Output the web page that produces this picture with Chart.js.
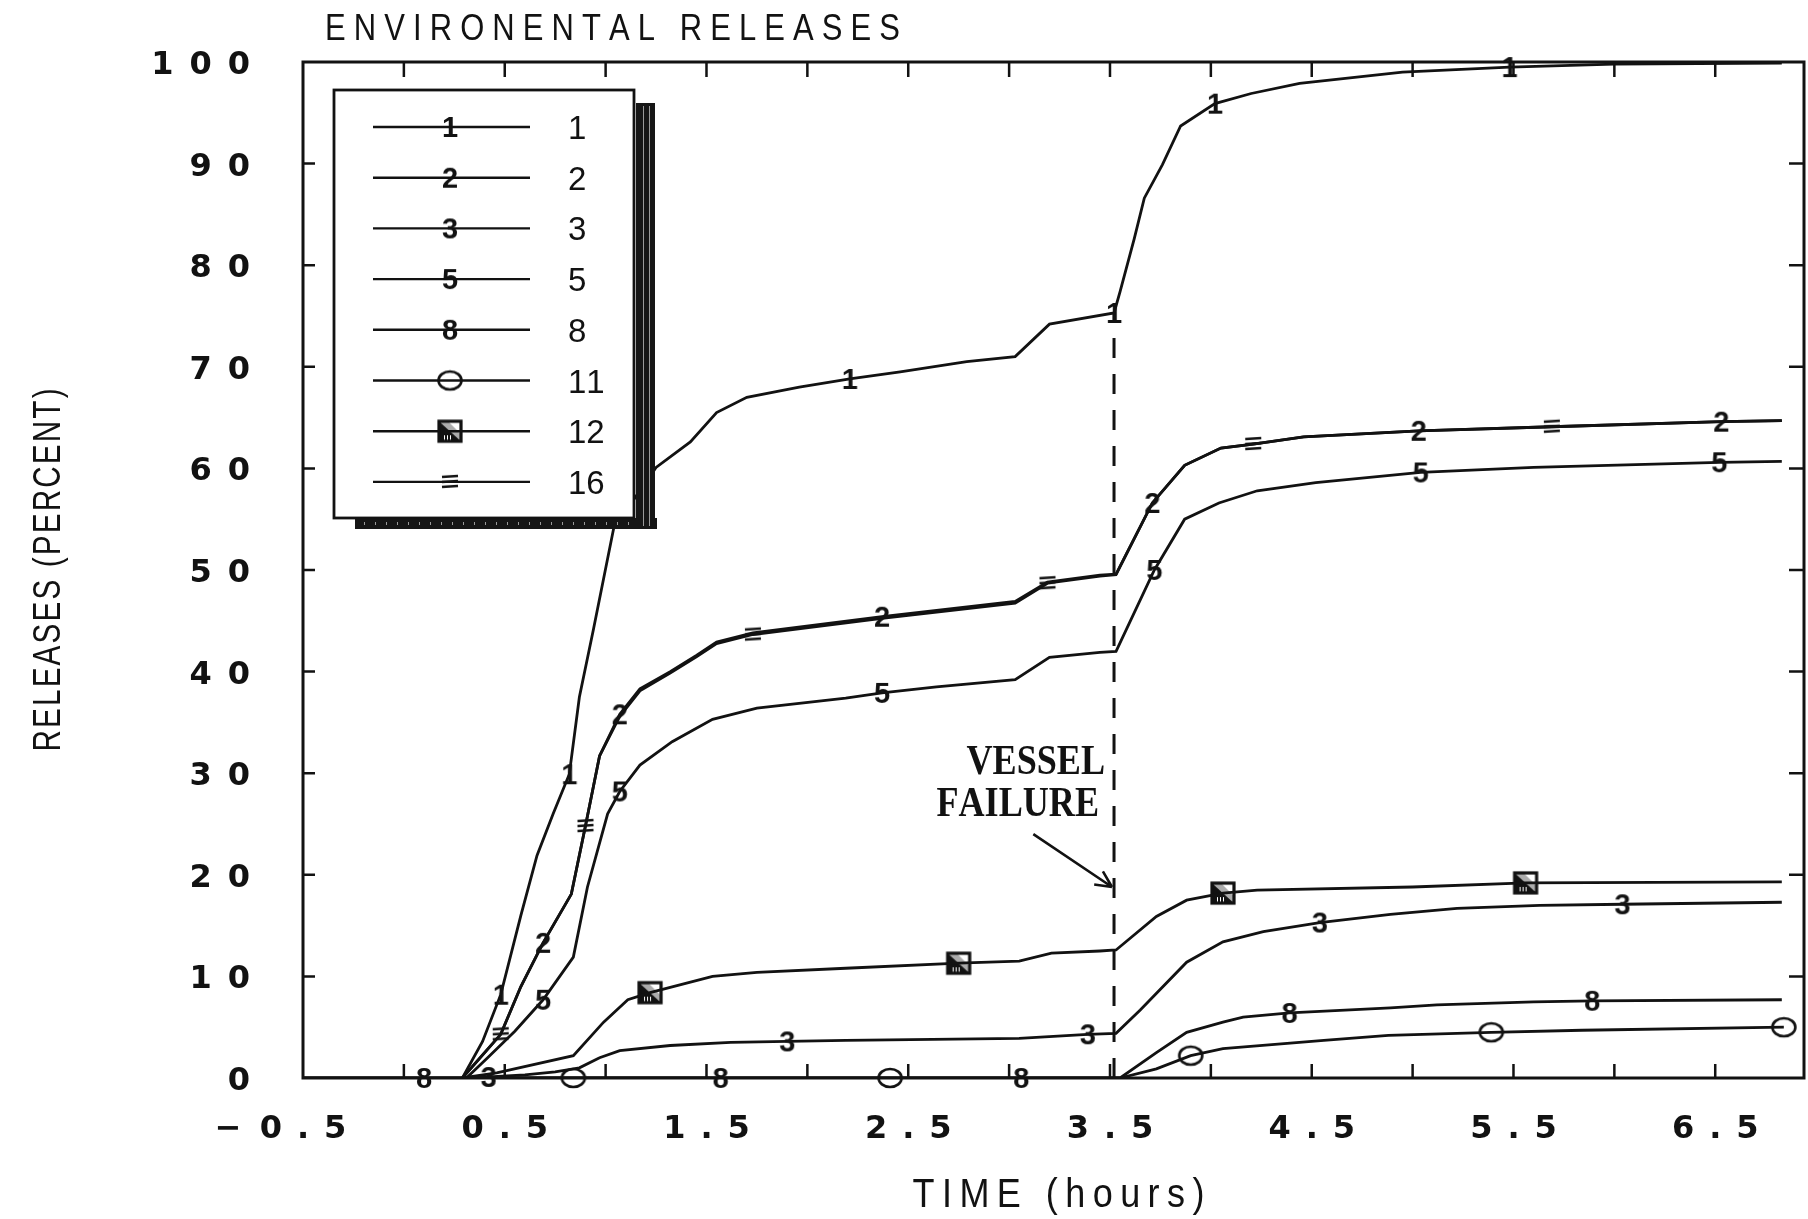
<!DOCTYPE html>
<html lang="en">
<head>
<meta charset="UTF-8">
<title>Environental Releases</title>
<script src="https://cdn.jsdelivr.net/npm/chart.js"></script>
<style>
    html, body { margin: 0; padding: 0; background: #fff; }
    #wrap { width: 1808px; height: 1219px; }
</style>
</head>
<body>
<div id="wrap"><canvas id="releaseChart" width="1808" height="1219"></canvas></div>
<script>
// --- data: time (hours) and release (percent) ---
const seriesLabels = ['1', '2', '3', '5', '8', '11', '12', '16'];

const s1Time = [0.29, 0.39, 0.48, 0.58, 0.66, 0.74, 0.82, 0.87, 0.94, 1.04, 1.25, 1.42, 1.55, 1.70, 1.96, 2.21, 2.46, 2.79, 3.03, 3.20, 3.52, 3.55, 3.62, 3.67, 3.76, 3.85, 4.02, 4.20, 4.44, 4.95, 5.48, 6.00, 6.83];
const s1Pct  = [0, 3.6, 8.2, 16.0, 21.9, 26.0, 29.9, 37.5, 44.2, 54.1, 60.1, 62.6, 65.5, 67.0, 68.0, 68.8, 69.5, 70.5, 71.0, 74.2, 75.3, 77.4, 82.6, 86.6, 89.9, 93.7, 95.9, 96.9, 97.9, 99.0, 99.5, 99.8, 99.9];
const s1Marks = [0.48, 0.82, 2.21, 3.52, 4.02, 5.48];

const s2Time = [0.29, 0.48, 0.58, 0.69, 0.83, 0.90, 0.97, 1.07, 1.17, 1.32, 1.45, 1.55, 1.73, 2.37, 3.03, 3.19, 3.45, 3.53, 3.71, 3.87, 4.05, 4.21, 4.46, 5.03, 5.69, 6.53, 6.83];
const s2Pct  = [0, 4.3, 9.0, 13.3, 18.1, 24.8, 31.7, 35.8, 38.3, 40.0, 41.6, 42.9, 43.8, 45.4, 46.9, 48.8, 49.5, 49.6, 56.6, 60.3, 62.0, 62.4, 63.1, 63.7, 64.1, 64.6, 64.7];
const s2Marks = [0.69, 1.07, 2.37, 3.71, 5.03, 6.53];

const s3Time = [0.29, 0.42, 0.60, 0.75, 0.87, 0.97, 1.07, 1.32, 1.62, 1.90, 2.19, 3.05, 3.39, 3.53, 3.65, 3.88, 4.06, 4.26, 4.54, 4.89, 5.22, 5.63, 6.04, 6.83];
const s3Pct  = [0, 0.1, 0.3, 0.6, 1.0, 2.0, 2.7, 3.2, 3.5, 3.6, 3.7, 3.9, 4.3, 4.4, 6.7, 11.4, 13.4, 14.4, 15.3, 16.1, 16.7, 17.0, 17.1, 17.3];
const s3Marks = [0.42, 1.90, 3.39, 4.54, 6.04];

const s5Time = [0.31, 0.41, 0.55, 0.69, 0.84, 0.91, 1.01, 1.07, 1.17, 1.33, 1.53, 1.75, 2.19, 2.37, 2.64, 3.03, 3.20, 3.45, 3.53, 3.72, 3.87, 4.04, 4.23, 4.52, 5.04, 5.60, 6.52, 6.83];
const s5Pct  = [0, 1.9, 4.6, 7.7, 11.9, 18.8, 26.0, 28.2, 30.8, 33.1, 35.3, 36.4, 37.4, 37.9, 38.5, 39.2, 41.4, 41.9, 42.0, 50.0, 55.0, 56.6, 57.8, 58.6, 59.6, 60.1, 60.6, 60.7];
const s5Marks = [0.69, 1.07, 2.37, 3.72, 5.04, 6.52];

const s8Time = [-0.5, 0.10, 1.57, 3.06, 3.55, 3.73, 3.88, 4.06, 4.16, 4.39, 4.89, 5.12, 5.60, 5.89, 6.83];
const s8Pct  = [0, 0, 0, 0, 0, 2.5, 4.5, 5.5, 6.0, 6.4, 6.9, 7.2, 7.5, 7.6, 7.7];
const s8Marks = [0.10, 1.57, 3.06, 4.39, 5.89];

const s11Time = [-0.5, 0.84, 2.41, 3.55, 3.73, 3.90, 4.06, 4.56, 4.88, 5.39, 5.84, 6.84];
const s11Pct  = [0, 0, 0, 0, 0.9, 2.2, 2.9, 3.7, 4.2, 4.5, 4.7, 5.0];
const s11Marks = [0.84, 2.41, 3.90, 5.39, 6.84];

const s12Time = [0.29, 0.46, 0.84, 0.99, 1.11, 1.22, 1.53, 1.75, 2.19, 2.75, 3.05, 3.21, 3.45, 3.53, 3.73, 3.88, 4.06, 4.23, 5.00, 5.56, 6.83];
const s12Pct  = [0, 0.5, 2.2, 5.5, 7.7, 8.4, 10.0, 10.4, 10.8, 11.3, 11.5, 12.3, 12.5, 12.6, 15.9, 17.5, 18.2, 18.5, 18.8, 19.2, 19.3];
const s12Marks = [1.22, 2.75, 4.06, 5.56];

const s16Time = [0.29, 0.48, 0.58, 0.69, 0.83, 0.90, 0.97, 1.07, 1.17, 1.32, 1.45, 1.55, 1.73, 2.37, 3.03, 3.19, 3.45, 3.53, 3.71, 3.87, 4.05, 4.21, 4.46, 5.03, 5.69, 6.53, 6.83];
const s16Pct  = [0, 4.3, 9.0, 13.3, 18.1, 24.8, 31.7, 35.6, 38.1, 39.85, 41.45, 42.75, 43.65, 45.25, 46.75, 48.7, 49.4, 49.55, 56.6, 60.3, 62.0, 62.4, 63.1, 63.7, 64.1, 64.6, 64.7];
const s16Marks = [0.48, 0.90, 1.73, 3.19, 4.21, 5.69];

// vessel failure marker (time, and dashed line from 0 up to curve 1)
const failTime = 3.52;
const failPct = [0, 75.3];

// axis labels
const xLabelTimes = [-0.5, 0.5, 1.5, 2.5, 3.5, 4.5, 5.5, 6.5];
const xLabelText = ['\u22120.5', '0.5', '1.5', '2.5', '3.5', '4.5', '5.5', '6.5'];
const yLabelValues = [0, 10, 20, 30, 40, 50, 60, 70, 80, 90, 100];

const INK = '#121212';

// --- plot symbols, drawn once into small canvases ---
function makeSymbol(w, h, draw) {
    const c = document.createElement('canvas');
    c.width = w; c.height = h;
    const g = c.getContext('2d');
    g.strokeStyle = INK;
    g.fillStyle = INK;
    draw(g);
    return c;
}

function digitSymbol(ch) {
    return makeSymbol(28, 32, g => {
        g.font = 'bold 29px "Liberation Sans", Arial, sans-serif';
        g.textAlign = 'center';
        g.fillText(ch, 14, 26);
    });
}

const circleSymbol = makeSymbol(30, 24, g => {
    g.lineWidth = 2.6;
    g.beginPath();
    g.ellipse(15, 12, 11.5, 9, 0, 0, Math.PI * 2);
    g.stroke();
});

const squareSymbol = makeSymbol(28, 26, g => {
    g.beginPath();
    g.moveTo(3, 3); g.lineTo(3, 23); g.lineTo(25, 23);
    g.closePath();
    g.fill();
    g.beginPath();
    g.moveTo(3, 3); g.lineTo(12, 3); g.lineTo(25, 16); g.lineTo(25, 23);
    g.closePath();
    g.globalAlpha = 0.35;
    g.fill();
    g.globalAlpha = 1;
    g.strokeStyle = '#fff';
    g.lineWidth = 1;
    [8, 11, 14].forEach(x => { g.beginPath(); g.moveTo(x + 0.5, 17); g.lineTo(x + 0.5, 22); g.stroke(); });
    g.strokeStyle = INK;
    g.lineWidth = 3.2;
    g.strokeRect(3, 3, 22, 20);
});

const barsSymbol = makeSymbol(22, 20, g => {
    g.lineWidth = 2.3;
    [5, 10, 15].forEach(y => { g.beginPath(); g.moveTo(3, y); g.lineTo(19, y - 1); g.stroke(); });
});

const series = [
    { label: '1', time: s1Time, pct: s1Pct, marks: s1Marks, symbol: digitSymbol('1') },
    { label: '2', time: s2Time, pct: s2Pct, marks: s2Marks, symbol: digitSymbol('2') },
    { label: '3', time: s3Time, pct: s3Pct, marks: s3Marks, symbol: digitSymbol('3') },
    { label: '5', time: s5Time, pct: s5Pct, marks: s5Marks, symbol: digitSymbol('5') },
    { label: '8', time: s8Time, pct: s8Pct, marks: s8Marks, symbol: digitSymbol('8') },
    { label: '11', time: s11Time, pct: s11Pct, marks: s11Marks, symbol: circleSymbol },
    { label: '12', time: s12Time, pct: s12Pct, marks: s12Marks, symbol: squareSymbol },
    { label: '16', time: s16Time, pct: s16Pct, marks: s16Marks, symbol: barsSymbol }
];

const datasets = [];
series.forEach(s => {
    datasets.push({
        label: s.label,
        data: s.time.map((t, i) => ({ x: t, y: s.pct[i] })),
        borderColor: INK,
        borderWidth: 2.8,
        pointRadius: 0,
        tension: 0,
        fill: false
    });
    // symbols sit on the curve vertices at the listed times
    datasets.push({
        label: s.label + ' symbols',
        data: s.marks.map(t => ({ x: t, y: s.pct[s.time.indexOf(t)] })),
        showLine: false,
        pointStyle: s.symbol,
        pointRadius: 3,
        pointBorderWidth: 0,
        clip: false
    });
});
datasets.push({
    label: 'vessel failure',
    data: failPct.map(v => ({ x: failTime, y: v })),
    borderColor: INK,
    borderWidth: 3,
    borderDash: [20, 16],
    pointRadius: 0
});

// draws text one glyph at a time so the wide plotter spacing can be copied
function drawSpaced(ctx, text, x, y, o) {
    const sx = o.sx || 1;
    ctx.save();
    ctx.translate(x, y);
    if (o.rotate) ctx.rotate(o.rotate);
    ctx.scale(sx, 1);
    ctx.font = o.font;
    ctx.fillStyle = INK;
    ctx.textAlign = 'left';
    ctx.textBaseline = 'alphabetic';
    const chars = Array.from(text);
    const widths = chars.map(c => ctx.measureText(c).width);
    const glyphs = widths.reduce((a, b) => a + b, 0);
    let gap = (o.gap || 0) / sx;
    if (o.width && chars.length > 1) gap = (o.width / sx - glyphs) / (chars.length - 1);
    const total = glyphs + gap * (chars.length - 1);
    let cx = o.align === 'right' ? -total : o.align === 'center' ? -total / 2 : 0;
    chars.forEach((c, i) => { ctx.fillText(c, cx, 0); cx += widths[i] + gap; });
    ctx.restore();
    return total * sx;
}

const plotDecor = {
    id: 'plotDecor',
    afterDatasetsDraw(chart) {
        const { ctx, chartArea: a, scales: { x, y } } = chart;
        ctx.save();
        ctx.strokeStyle = INK;

        // frame
        ctx.lineWidth = 3;
        ctx.strokeRect(a.left, a.top, a.right - a.left, a.bottom - a.top);

        // inward tick marks on all four sides
        ctx.lineWidth = 2.5;
        ctx.beginPath();
        x.ticks.forEach(t => {
            if (t.value <= x.min || t.value >= x.max) return;
            const px = x.getPixelForValue(t.value);
            ctx.moveTo(px, a.bottom); ctx.lineTo(px, a.bottom - 14);
            ctx.moveTo(px, a.top); ctx.lineTo(px, a.top + 15);
        });
        y.ticks.forEach(t => {
            if (t.value <= y.min || t.value >= y.max) return;
            const py = y.getPixelForValue(t.value);
            ctx.moveTo(a.left, py); ctx.lineTo(a.left + 12, py);
            ctx.moveTo(a.right, py); ctx.lineTo(a.right - 15, py);
        });
        ctx.stroke();

        // tick labels
        const tickFont = 'bold 32px "DejaVu Sans", sans-serif';
        yLabelValues.forEach(v => {
            drawSpaced(ctx, String(v), a.left - 53, y.getPixelForValue(v) + 12, { font: tickFont, gap: 16, align: 'right' });
        });
        xLabelTimes.forEach((t, i) => {
            const px = x.getPixelForValue(t);
            let txt = xLabelText[i];
            const neg = txt.startsWith('\u2212');
            if (neg) txt = txt.slice(1);
            const w = drawSpaced(ctx, txt, px, a.bottom + 60, { font: tickFont, gap: 15, align: 'center' });
            if (neg) drawSpaced(ctx, '\u2212', px - w / 2 - 18, a.bottom + 60, { font: tickFont, align: 'right' });
        });

        // titles (thin condensed plotter lettering)
        drawSpaced(ctx, 'ENVIRONENTAL RELEASES', a.left + 22, a.top - 22, { font: '36px "Liberation Sans", Arial, sans-serif', sx: 0.86, width: 575 });
        drawSpaced(ctx, 'TIME (hours)', (a.left + a.right) / 2 + 5, a.bottom + 129, { font: '40px "Liberation Sans", Arial, sans-serif', sx: 0.9, width: 292, align: 'center' });
        drawSpaced(ctx, 'RELEASES (PERCENT)', a.left - 243, (a.top + a.bottom) / 2, { font: '39px "Liberation Sans", Arial, sans-serif', sx: 0.76, width: 363, align: 'center', rotate: -Math.PI / 2 });

        // vessel failure note and arrow
        const fx = x.getPixelForValue(failTime);
        const noteFont = 'bold 42px "Liberation Serif", "Times New Roman", serif';
        drawSpaced(ctx, 'VESSEL', fx - 9, y.getPixelForValue(29.9), { font: noteFont, sx: 0.86, align: 'right' });
        drawSpaced(ctx, 'FAILURE', fx - 15, y.getPixelForValue(25.8), { font: noteFont, sx: 0.86, align: 'right' });
        const ax0 = x.getPixelForValue(3.12), ay0 = y.getPixelForValue(24.0);
        const ax1 = x.getPixelForValue(3.51), ay1 = y.getPixelForValue(18.8);
        const ang = Math.atan2(ay1 - ay0, ax1 - ax0);
        ctx.lineWidth = 2.6;
        ctx.beginPath();
        ctx.moveTo(ax0, ay0); ctx.lineTo(ax1, ay1);
        [-0.45, 0.45].forEach(d => {
            ctx.moveTo(ax1, ay1);
            ctx.lineTo(ax1 - 18 * Math.cos(ang + d), ay1 - 18 * Math.sin(ang + d));
        });
        ctx.stroke();

        // legend box with dark drop shadow
        const L = a.left + 31, T = a.top + 28, W = 300, H = 428;
        ctx.fillStyle = '#161616';
        ctx.fillRect(L + W + 2, T + 13, 19, H - 2);
        ctx.fillRect(L + 21, T + H, W + 2, 11);
        ctx.strokeStyle = '#9a9a9a';
        ctx.lineWidth = 1;
        ctx.beginPath();
        [L + W + 9, L + W + 15].forEach(sx => { ctx.moveTo(sx + 0.5, T + 16); ctx.lineTo(sx + 0.5, T + H + 8); });
        for (let sx = L + 30; sx < L + W; sx += 11) { ctx.moveTo(sx + 0.5, T + H + 4); ctx.lineTo(sx + 0.5, T + H + 7); }
        ctx.stroke();

        ctx.fillStyle = '#fff';
        ctx.fillRect(L, T, W, H);
        ctx.strokeStyle = INK;
        ctx.lineWidth = 2.8;
        ctx.strokeRect(L, T, W, H);

        seriesLabels.forEach((lab, i) => {
            const s = series.find(d => d.label === lab);
            const ry = T + 37 + i * 50.7;
            ctx.lineWidth = 2.4;
            ctx.beginPath();
            ctx.moveTo(L + 39, ry); ctx.lineTo(L + 196, ry);
            ctx.stroke();
            ctx.drawImage(s.symbol, L + 116 - s.symbol.width / 2, ry - s.symbol.height / 2);
            drawSpaced(ctx, lab, L + 234, ry + 12, { font: '33px "Liberation Sans", Arial, sans-serif', gap: 0 });
        });

        ctx.restore();
    }
};

new Chart(document.getElementById('releaseChart'), {
    type: 'line',
    data: { datasets },
    options: {
        responsive: false,
        animation: false,
        devicePixelRatio: 1,
        layout: { padding: { left: 303, top: 62, right: 4, bottom: 141 } },
        plugins: {
            legend: { display: false },
            tooltip: { enabled: false },
            title: { display: false }
        },
        scales: {
            x: {
                type: 'linear',
                min: -0.5,
                max: 6.94,
                ticks: { display: false, stepSize: 0.5 },
                grid: { display: false, drawTicks: false },
                border: { display: false }
            },
            y: {
                min: 0,
                max: 100,
                ticks: { display: false, stepSize: 10 },
                grid: { display: false, drawTicks: false },
                border: { display: false }
            }
        }
    },
    plugins: [plotDecor]
});
</script>
</body>
</html>
